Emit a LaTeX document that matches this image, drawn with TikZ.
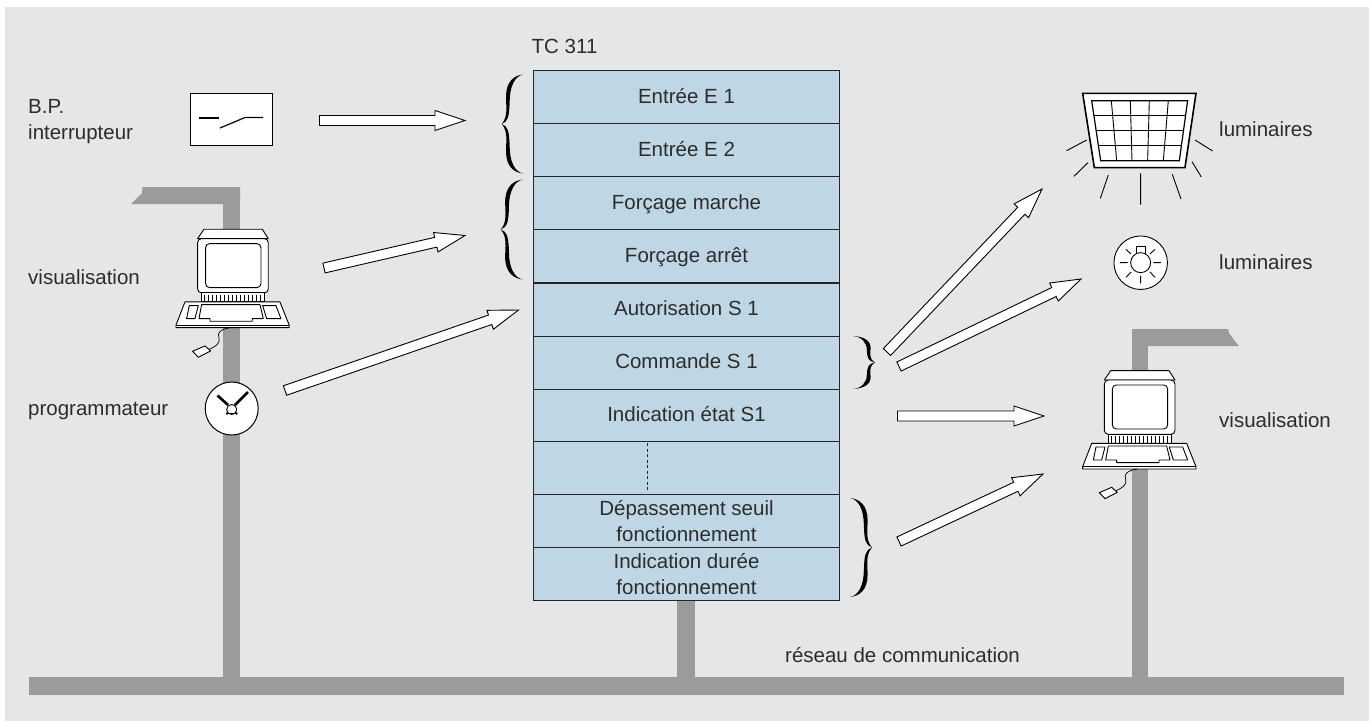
\documentclass[tikz,border=0pt]{standalone}
\usepackage{fontspec}
\setmainfont{Liberation Sans}
\usetikzlibrary{calc}
\definecolor{bgc}{HTML}{E5E6E8}
\definecolor{barc}{HTML}{9B9B9B}
\definecolor{rowc}{HTML}{BFD7E4}
\definecolor{txtc}{HTML}{2C2C2C}
\tikzset{
  lab/.style={anchor=base west,inner sep=0pt,text=txtc,font=\fontsize{20.5}{26}\selectfont},
  rowbox/.style={draw=black!85,line width=1pt,fill=rowc,minimum width=305.5pt,minimum height=53pt,
    inner sep=0pt,outer sep=0pt,text=txtc,align=center,font=\fontsize{20.5}{26}\selectfont},
  onerow/.style={rowbox,text height=14pt,text depth=2pt},
  bar/.style={fill=barc,draw=none},
  fatarrow/.style={draw=black,fill=white,line width=0.9pt,line join=miter},
  thinline/.style={draw=black,line width=0.9pt},
  hand/.style={draw=black,line width=2.6pt},
}
\newcommand{\fatarrow}[2]{%
  \coordinate (hb) at ($(#2)!30pt!(#1)$);
  \draw[fatarrow] ($(#1)!5pt!90:(#2)$) -- ($(hb)!5pt!90:(#2)$) -- ($(hb)!10pt!90:(#2)$) -- (#2)
    -- ($(hb)!10pt!-90:(#2)$) -- ($(hb)!5pt!-90:(#2)$) -- ($(#1)!5pt!-90:(#2)$) -- cycle;}
% brace: unit shape, tip at x=0, arms at x=1, y from -1 to 1
\newcommand{\bracepath}{%
  \fill[black] (1,1) .. controls (0.55,0.98) and (0.2,0.85) .. (0.2,0.55)
    .. controls (0.2,0.35) and (0.3,0.15) .. (0,0)
    .. controls (0.3,-0.15) and (0.2,-0.35) .. (0.2,-0.55)
    .. controls (0.2,-0.85) and (0.55,-0.98) .. (1,-1)
    .. controls (0.6,-0.97) and (0.37,-0.75) .. (0.37,-0.45)
    .. controls (0.35,-0.15) and (0.3,-0.05) .. (0,0)
    .. controls (0.3,0.05) and (0.35,0.15) .. (0.37,0.45)
    .. controls (0.37,0.75) and (0.6,0.97) .. (1,1) -- cycle;}
% brace: #1 tip x, #2 tip y, #3 signed width, #4 half height
\newcommand{\curly}[4]{\begin{scope}[shift={(#1,#2)},x=#3pt,y=#4pt]\bracepath\end{scope}}
% computer; coordinates in thirds of a pixel
\newcommand{\computer}[2]{%
  \begin{scope}[shift={(#1,#2)},x=0.3333pt,y=-0.3333pt,line join=round]
    \draw[thinline,fill=white] (212,152) -- (387,152) -- (405,180) -- (193,180) -- cycle;
    \draw[thinline,fill=white,rounded corners=4pt] (193,180) rectangle (405,343);
    \draw[thinline,fill=white,rounded corners=4pt] (217,195) rectangle (383,327);
    \draw[thinline,fill=white] (205,343) rectangle (393,370);
    \foreach \t in {213,225,...,385} \draw[draw=black,line width=0.7pt] (\t,348) -- (\t,370);
    \draw[thinline,fill=white] (155,370) -- (440,370) -- (468,440) -- (468,447) -- (128,447) -- (128,440) -- cycle;
    \draw[thinline] (128,440) -- (468,440);
    \draw[thinline] (168,381) -- (195,381) -- (185,420) -- (160,420) -- cycle;
    \draw[thinline] (388,381) -- (428,381) -- (443,420) -- (400,420) -- cycle;
    \draw[thinline] (205,378) -- (380,378) -- (390,420) -- (357,420) -- (357,428) -- (230,428) -- (230,420) -- (197,420) -- cycle;
    \draw[draw=black,line width=0.7pt] (292,447) .. controls (262,452) and (250,462) .. (257,478)
      .. controls (262,495) and (245,505) .. (228,512);
    \draw[thinline,fill=white] (178,518) -- (215,502) -- (232,517) -- (195,536) -- cycle;
  \end{scope}}
\begin{document}
\begin{tikzpicture}[x=1pt,y=-1pt]
\useasboundingbox (0,0) rectangle (1369,721);
\fill[bgc] (5,7) rectangle (1369,721);
% bars
\fill[bar] (29,677) rectangle (1344,695);
\fill[bar] (223,187) rectangle (240,677);
\fill[bar] (677,600) rectangle (695,677);
\fill[bar] (1132,329) rectangle (1148,677);
\fill[bar] (240,187) -- (142.5,187) -- (142,193) -- (137,198) -- (131,204) -- (240,204) -- cycle;
\fill[bar] (1132,329) -- (1228,329) -- (1229,333) -- (1234,340) -- (1239,346) -- (1132,346) -- cycle;
% table
\node[onerow] (r1) at (686.5,97) {Entrée E 1};
\node[onerow] (r2) at (686.5,150) {Entrée E 2};
\node[onerow] (r3) at (686.5,203.2) {Forçage marche};
\node[onerow] (r4) at (686.5,256.3) {Forçage arrêt};
\node[onerow] (r5) at (686.5,309.5) {Autorisation S 1};
\node[onerow] (r6) at (686.5,362.5) {Commande S 1};
\node[onerow] (r7) at (686.5,415.5) {Indication état S1};
\node[rowbox] (r8) at (686.5,468) {};
\node[rowbox] (r9) at (686.5,521) {Dépassement seuil\\fonctionnement};
\node[rowbox] (r10) at (686.5,574) {Indication durée\\fonctionnement};
\draw[draw=black!85,line width=0.8pt,dash pattern=on 3pt off 2.5pt] (647.7,443) -- (647.7,491);
\node[lab] (tc) at (531.5,53) {TC 311};
% left labels
\node[lab] (bp) at (28,113.5) {B.P.};
\node[lab] (intr) at (28,139) {interrupteur};
\node[lab] (vis1) at (28,284) {visualisation};
\node[lab] (prog) at (28,415.5) {programmateur};
\node[lab] (lum1) at (1219,136.5) {luminaires};
\node[lab] (lum2) at (1219,269) {luminaires};
\node[lab] (vis2) at (1219,427.5) {visualisation};
\node[lab] (res) at (785,662) {réseau de communication};
% switch
\node[draw=black,line width=1pt,fill=white,minimum width=82pt,minimum height=52pt,inner sep=0pt] (sw) at (231.5,119.5) {};
\draw[draw=black,line width=1.2pt] (199,118) -- (219,118);
\draw[draw=black,line width=1.2pt] (220,128) -- (245,117.5) -- (263,117.5);
% computers
\computer{133.3}{178.6}
\computer{1040}{320}
% clock
\node[circle,draw=black,line width=1pt,fill=white,minimum size=53pt,inner sep=0pt] (clk) at (231.7,408.5) {};
\draw[hand] (217.5,395.5) -- (228,405);
\draw[hand] (248,392) -- (235,405);
\draw[thinline] (231.7,409.5) circle (5pt);
\draw[thinline] (227,413.5) -- (236.5,413.5);
\fill[black] (227,413.5) circle (1.4pt) (236.5,413.5) circle (1.4pt);
% big lamp
\begin{scope}[shift={(1000,60)},x=0.3333pt,y=-0.3333pt]
  \draw[draw=black,line width=1.6pt,fill=white] (248,100) -- (588,100) -- (555,323) -- (283,323) -- cycle;
  \draw[draw=black,line width=1.2pt] (275,122) -- (563,122) -- (538,302) -- (302,302) -- cycle;
  \foreach \a/\b in {334/350,391/396,448/443,505/490} \draw[thinline] (\a,122) -- (\b,302);
  \draw[thinline] (281,166) -- (557,166) (288,211) -- (551,211) (295,256) -- (544,256);
  \draw[thinline] (200,272) -- (260,240) (222,349) -- (264,308) (301,415) -- (325,345)
    (422,340) -- (422,434) (517,343) -- (543,417) (576,305) -- (604,351) (585,240) -- (638,273);
\end{scope}
% small lamp
\node[circle,draw=black,line width=0.9pt,fill=white,minimum size=53.5pt,inner sep=0pt] (lmp) at (1140.7,262.7) {};
\begin{scope}[shift={(1000,60)},x=0.3333pt,y=-0.3333pt]
  \draw[thinline] (409,582) -- (409,560) -- (436,560) -- (436,582);
  \draw[thinline] (422,608) circle (10pt);
  \draw[thinline] (360,608) -- (383,608) (460,608) -- (483,608) (422,648) -- (422,670)
    (378,652) -- (394,636) (450,636) -- (465,652) (378,568) -- (393,582) (465,568) -- (450,582);
\end{scope}
% braces
\curly{501.7}{124}{21.5}{49.5}
\curly{500.7}{229.5}{22.3}{50}
\curly{875}{362.5}{-22}{26.5}
\curly{872}{547.5}{-22}{49.5}
% arrows
\coordinate (a1s) at (319.5,120.5); \coordinate (a1e) at (465,120.5);
\coordinate (a2s) at (324,268); \coordinate (a2e) at (465,235.5);
\coordinate (a3s) at (285,390.5); \coordinate (a3e) at (518.5,310);
\coordinate (a4s) at (887,352); \coordinate (a4e) at (1042,189);
\coordinate (a5s) at (899,366.5); \coordinate (a5e) at (1081,279);
\coordinate (a6s) at (897.5,416); \coordinate (a6e) at (1044,416);
\coordinate (a7s) at (899,541.5); \coordinate (a7e) at (1043,474);
\fatarrow{a1s}{a1e}
\fatarrow{a2s}{a2e}
\fatarrow{a3s}{a3e}
\fatarrow{a4s}{a4e}
\fatarrow{a5s}{a5e}
\fatarrow{a6s}{a6e}
\fatarrow{a7s}{a7e}
\end{tikzpicture}
\end{document}
